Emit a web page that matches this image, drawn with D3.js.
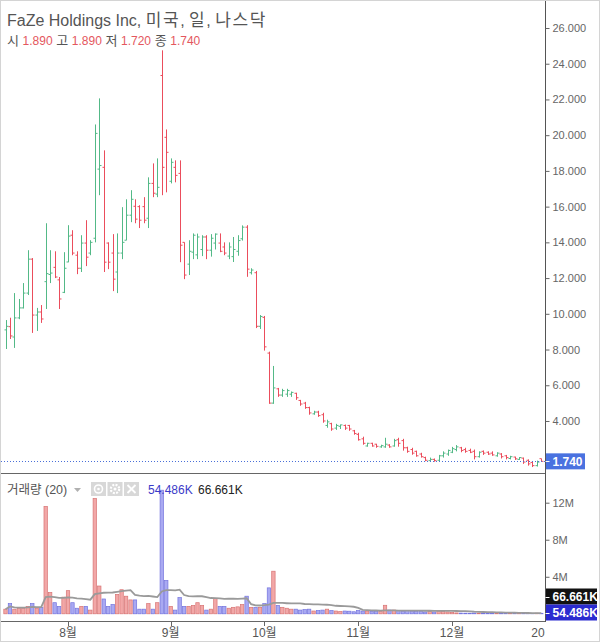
<!DOCTYPE html>
<html><head><meta charset="utf-8">
<script src="https://cdn.jsdelivr.net/npm/d3@7"></script>
<style>
body{margin:0;background:#fff}
svg{display:block}
text{font-family:"Liberation Sans",Arial,"Noto Sans CJK KR",sans-serif}
</style>
</head><body>
<svg id="c" width="600" height="642"></svg>
<script>
// ---------- DATA ----------
const opens  = [9.1,9.28,8.70,9.77,10.33,11.16,13.06,9.93,10.10,11.8,12.2,12.6,11.9,11.2,12.9,14.4,13.28,12.55,13.96,13.4,14.23,18.1,18.2,13.96,13.4,12.34,13.4,14.12,15.52,16.02,16.0,16.0,15.35,17.3,16.7,23.34,19.88,17.42,18.2,17.86,14.0,12.78,13.45,13.3,13.6,14.3,13.56,13.96,13.96,13.74,13.23,13.2,13.5,14.2,14.85,12.3,12.3,9.3,9.8,7.8,5.0,5.8,5.45,5.5,5.5,5.55,5.15,5.0,4.75,4.4,4.5,4.35,3.75,3.85,3.6,3.7,3.75,3.75,3.45,3.25,3.0,2.6,2.75,2.7,2.55,2.55,2.65,2.6,2.95,2.9,2.5,2.4,2.3,2.15,1.95,1.78,1.85,1.8,2.05,2.15,2.25,2.4,2.5,2.4,2.35,2.3,2.0,2.3,2.25,2.2,2.05,2.15,2.05,1.9,1.98,1.85,1.92,1.8,1.68,1.5,1.89];
const highs  = [9.65,9.78,11.16,10.83,11.72,13.56,13.12,10.33,10.49,15.07,13.56,13.5,12.06,13.45,14.96,14.68,13.5,14.4,15.24,14.12,20.6,22.06,19.15,14.0,14.46,14.5,15.97,16.41,16.92,16.41,16.08,16.53,17.64,18.42,18.7,24.75,20.32,18.7,18.59,18.59,14.0,14.12,14.5,14.49,14.4,14.4,14.46,14.5,14.5,14.0,14.0,14.3,14.4,14.95,14.96,12.55,12.4,9.93,9.88,7.88,7.08,5.85,5.8,5.8,5.65,5.58,5.18,5.07,4.8,4.57,4.57,4.46,4.07,3.9,3.84,3.8,3.8,3.78,3.5,3.34,3.12,2.78,2.78,2.72,2.67,3.06,2.7,3.0,3.06,3.0,2.56,2.5,2.34,2.22,2.0,1.95,1.9,2.1,2.3,2.4,2.55,2.65,2.55,2.5,2.45,2.4,2.3,2.35,2.3,2.3,2.25,2.2,2.1,2.05,2.0,1.98,1.95,1.85,1.72,1.78,1.89];
const lows   = [8.03,8.59,8.09,9.7,10.3,11.05,8.93,9.04,9.49,10.27,11.72,12.0,10.27,11.16,12.89,13.28,12.22,12.34,12.67,13.28,14.0,16.64,12.34,12.5,11.27,11.16,13.06,14.12,15.13,15.07,14.8,15.07,14.8,16.53,16.53,16.64,16.8,17.3,17.36,12.89,11.94,12.17,13.06,13.06,13.23,13.06,13.2,13.6,13.45,13.28,13.06,12.9,13.25,14.1,12.07,12.2,9.2,9.15,7.94,4.96,4.96,5.35,5.35,5.35,5.35,5.18,4.85,4.68,4.35,4.35,4.23,3.9,3.62,3.45,3.5,3.55,3.5,3.45,3.23,2.9,2.67,2.56,2.56,2.5,2.5,2.5,2.5,2.56,2.56,2.34,2.22,2.11,2.0,1.95,1.75,1.72,1.72,1.75,1.95,2.05,2.2,2.3,2.25,2.22,2.2,1.85,1.95,2.1,2.1,2.05,2.0,1.9,1.85,1.85,1.82,1.82,1.6,1.5,1.42,1.45,1.72];
const closes = [9.3,8.76,9.77,10.33,11.16,13.06,9.93,10.10,9.71,12.25,12.28,12.06,10.83,12.55,14.35,13.4,12.55,13.96,13.17,14.0,20.1,18.3,12.89,12.89,11.94,13.4,14.0,15.52,16.41,15.3,15.24,15.24,17.3,16.75,17.08,18.2,19.04,18.48,17.75,13.84,12.17,13.5,14.4,14.3,14.3,13.56,14.23,14.46,13.5,13.4,13.74,13.6,14.1,14.85,12.5,12.45,9.3,9.85,8.15,5.0,5.85,5.45,5.7,5.7,5.6,5.3,4.95,4.75,4.45,4.5,4.3,4.0,3.95,3.55,3.75,3.78,3.6,3.55,3.3,2.95,2.75,2.75,2.6,2.58,2.62,2.7,2.55,2.9,2.75,2.5,2.3,2.2,2.05,2.0,1.8,1.85,1.78,2.05,2.2,2.35,2.45,2.55,2.35,2.3,2.25,2.0,2.25,2.2,2.15,2.1,2.2,2.0,1.95,2.0,1.88,1.95,1.7,1.6,1.5,1.7,1.74];
// volume in millions of shares
const volumes = [0.5,1.1,0.5,0.6,0.6,0.8,1.1,0.6,0.7,11.6,2.3,1.2,0.8,1.8,2.5,1.2,0.6,0.8,0.8,0.4,12.45,3.0,1.6,0.8,1.0,2.1,2.6,1.9,1.5,1.5,0.5,0.5,1.1,0.5,1.2,13.35,3.6,0.8,0.4,1.75,0.8,0.8,0.9,1.2,0.9,0.4,0.5,1.64,0.8,0.8,0.6,0.7,0.75,1.0,1.9,0.7,0.7,0.7,1.1,2.8,4.6,0.9,0.7,0.6,0.5,0.5,0.4,
  0.45,0.5,0.3,0.35,0.4,0.5,0.35,0.3,0.25,0.3,0.28,0.22,0.35,0.3,0.3,0.25,0.3,0.25,0.92,0.4,
  0.4,0.35,0.3,0.35,0.3,0.25,0.3,0.2,0.25,0.2,0.3,0.25,0.2,0.15,
  0.098734,0.08,0.07,0.06,0.09,0.07,0.06,0.05,0.08,0.06,0.05,0.07,0.06,0.05,0.08,0.07,0.06,0.05,0.07,0.054486];
const startDate = "2022-07-12";
const holidays = ["2022-09-05","2022-11-24","2022-12-26"];
const monthTickLabels = ["8월","9월","10월","11월","12월","20"];
const priceTicks = [2,4,6,8,10,12,14,16,18,20,22,24,26];
const volumeTicks = [4,8,12];
const maLength = 20;
const titleLatin = "FaZe Holdings Inc, ";
const titleKorean = ["미국", ", ", "일", ", ", "나스닥"];
const volTitle = "거래량 (20)";

// ---------- SCALES ----------
const N = opens.length;
const svg = d3.select("#c");
const axisX = 545.5;
const x = d3.scaleLinear().domain([0, N - 1]).range([5.5, 541.3]);
const y = d3.scaleLinear().domain([2, 26]).range([456.7, 28]);
const yv = d3.scaleLinear().domain([0, 12]).range([613.8, 502.7]);
const UP = "#53b987", DOWN = "#eb4d5c";

// trading days
const fmt = d3.timeFormat("%Y-%m-%d");
const days = [];
{
  let d = d3.timeParse("%Y-%m-%d")(startDate);
  while (days.length < N + 1) {
    const wd = d.getDay();
    if (wd !== 0 && wd !== 6 && !holidays.includes(fmt(d))) days.push(new Date(d));
    d = d3.timeDay.offset(d, 1);
  }
}
const monthTickIdx = [];
for (let i = 1; i < days.length; i++) if (days[i].getMonth() !== days[i - 1].getMonth()) monthTickIdx.push(i);

// ---------- FRAME ----------
svg.append("rect").attr("x", 0.5).attr("y", 0.5).attr("width", 599).attr("height", 641)
  .attr("fill", "#fff").attr("stroke", "#d4d4d4");

svg.append("defs").html(
  `<clipPath id="pp"><rect x="1" y="1" width="${axisX - 1}" height="471"/></clipPath>
   <clipPath id="vp"><rect x="1" y="474" width="${axisX - 1}" height="147"/></clipPath>`);

// ---------- PRICE PANE ----------
const gp = svg.append("g").attr("clip-path", "url(#pp)");
gp.selectAll("path.bar").data(d3.range(N)).join("path")
  .attr("fill", "none")
  .attr("stroke", i => closes[i] >= opens[i] ? UP : DOWN)
  .attr("stroke-width", 1)
  .attr("d", i => {
    const cx = Math.round(x(i)) + 0.5;
    return `M${cx},${y(highs[i])}V${y(lows[i])}M${cx - 2},${y(opens[i])}H${cx}M${cx},${y(closes[i])}H${cx + 2}`;
  });

// last price dotted line
const last = closes[N - 1];
svg.append("line").attr("x1", 1).attr("x2", axisX).attr("y1", Math.round(y(last)) + 0.5).attr("y2", Math.round(y(last)) + 0.5)
  .attr("stroke", "#4a6fd8").attr("stroke-width", 1).attr("stroke-dasharray", "1,2");

// title
const title = svg.append("text").attr("x", 7).attr("y", 26).attr("font-size", 16).attr("fill", "#555");
title.append("tspan").text(titleLatin);
titleKorean.forEach(t => {
  const ts = title.append("tspan").text(t);
  if (t.trim() !== ",") ts.attr("font-size", 17).attr("letter-spacing", 1.6);
});
const ohlc = svg.append("text").attr("x", 7).attr("y", 45).attr("font-size", 12);
[["시 ", opens[N-1]], [" 고 ", highs[N-1]], [" 저 ", lows[N-1]], [" 종 ", closes[N-1]]].forEach(([k, v]) => {
  ohlc.append("tspan").attr("fill", "#555").attr("font-size", 13).text(k);
  ohlc.append("tspan").attr("fill", "#e4575e").text(d3.format(".3f")(v));
});

// ---------- VOLUME PANE ----------
const gv = svg.append("g").attr("clip-path", "url(#vp)");
gv.selectAll("rect.v").data(d3.range(N)).join("rect")
  .attr("x", i => x(i) - 1.7).attr("width", 3.4)
  .attr("y", i => yv(volumes[i])).attr("height", i => yv(0) - yv(volumes[i]))
  .attr("fill", i => closes[i] >= opens[i] ? "#f2a7a7" : "#a9a9f2")
  .attr("stroke", i => closes[i] >= opens[i] ? "#d87474" : "#7474de")
  .attr("stroke-width", 0.7);

const ma = d3.range(N).map(i => {
  const s = volumes.slice(Math.max(0, i - maLength + 1), i + 1);
  return d3.mean(s);
});
gv.append("path").attr("fill", "none").attr("stroke", "#9a9a9a").attr("stroke-width", 1.8)
  .attr("d", d3.line().x((d, i) => x(i)).y(d => yv(d))(ma));

// volume legend
const kfmt = v => d3.format(".3f")(v * 1000) + "K";
svg.append("text").attr("x", 7).attr("y", 494).attr("font-size", 12.5).attr("fill", "#555").text(volTitle);
svg.append("path").attr("d", "M74,488h7l-3.5,4z").attr("fill", "#b0b0b0");
const icons = svg.append("g");
[91, 107.5, 124].forEach((bx, k) => {
  icons.append("rect").attr("x", bx).attr("y", 482).attr("width", 15).attr("height", 14).attr("fill", "#d8d8d8");
  const cx = bx + 7.5, cy = 489;
  if (k === 0) {
    icons.append("circle").attr("cx", cx).attr("cy", cy).attr("r", 4).attr("fill", "none").attr("stroke", "#fff").attr("stroke-width", 1.6);
    icons.append("circle").attr("cx", cx).attr("cy", cy).attr("r", 1.3).attr("fill", "#fff");
  } else if (k === 1) {
    icons.append("circle").attr("cx", cx).attr("cy", cy).attr("r", 4.2).attr("fill", "none").attr("stroke", "#fff").attr("stroke-width", 2.2).attr("stroke-dasharray", "2,1.3");
    icons.append("circle").attr("cx", cx).attr("cy", cy).attr("r", 1.5).attr("fill", "#fff");
  } else {
    icons.append("path").attr("d", `M${cx-4},${cy-4}L${cx+4},${cy+4}M${cx+4},${cy-4}L${cx-4},${cy+4}`).attr("stroke", "#fff").attr("stroke-width", 1.8);
  }
});
svg.append("text").attr("x", 148).attr("y", 494).attr("font-size", 12).attr("fill", "#3b3bc8").text(kfmt(volumes[N - 1]));
svg.append("text").attr("x", 198).attr("y", 494).attr("font-size", 12).attr("fill", "#222").text(kfmt(ma[N - 1]));

// ---------- AXES / LINES ----------
svg.append("line").attr("x1", 1).attr("x2", axisX).attr("y1", 473.5).attr("y2", 473.5).attr("stroke", "#666");
svg.append("line").attr("x1", 1).attr("x2", axisX).attr("y1", 621.5).attr("y2", 621.5).attr("stroke", "#666");
svg.append("line").attr("x1", axisX).attr("x2", axisX).attr("y1", 1).attr("y2", 622).attr("stroke", "#555");

// the 2.000 label sits under the last-price tag, so only its tick is drawn
const ya = svg.append("g").attr("transform", `translate(${axisX},0)`)
  .call(d3.axisRight(y).tickValues(priceTicks).tickFormat(d => d === 2 ? "" : d3.format(".3f")(d)).tickSize(4).tickPadding(3));
const yva = svg.append("g").attr("transform", `translate(${axisX},0)`)
  .call(d3.axisRight(yv).tickValues(volumeTicks).tickFormat(d => d + "M").tickSize(4).tickPadding(3));
[ya, yva].forEach(g => {
  g.select(".domain").remove();
  g.selectAll("line").attr("stroke", "#666");
  g.selectAll("text").attr("fill", "#666").attr("font-size", 11).attr("font-family", "'Liberation Sans',Arial,sans-serif");
});

// x-axis month ticks
const xa = svg.append("g");
monthTickIdx.forEach((idx, k) => {
  const px = x(idx);
  if (px <= axisX) xa.append("line").attr("x1", Math.round(px) + 0.5).attr("x2", Math.round(px) + 0.5).attr("y1", 622).attr("y2", 626).attr("stroke", "#666");
  xa.append("text").attr("x", Math.min(px, 538)).attr("y", 637).attr("text-anchor", "middle")
    .attr("font-size", 12).attr("fill", "#555").text(monthTickLabels[k]);
});

// ---------- LABELS ON AXIS ----------
function axisTag(cy, bg, txt) {
  svg.append("rect").attr("x", axisX + 0.5).attr("y", cy - 8).attr("width", txt.length > 5 ? 51 : 39).attr("height", 16).attr("fill", bg);
  svg.append("line").attr("x1", axisX).attr("x2", axisX + 4).attr("y1", Math.round(cy) + 0.5).attr("y2", Math.round(cy) + 0.5).attr("stroke", "#fff");
  svg.append("text").attr("x", axisX + 7).attr("y", cy + 4.5).attr("font-size", 12).attr("font-weight", "bold").attr("fill", "#fff").text(txt);
}
axisTag(y(last), "#4a72e0", d3.format(".3f")(last));
axisTag(596.5, "#111", kfmt(ma[N - 1]));
axisTag(612.5, "#2b2bd0", kfmt(volumes[N - 1]));
</script>
</body></html>
